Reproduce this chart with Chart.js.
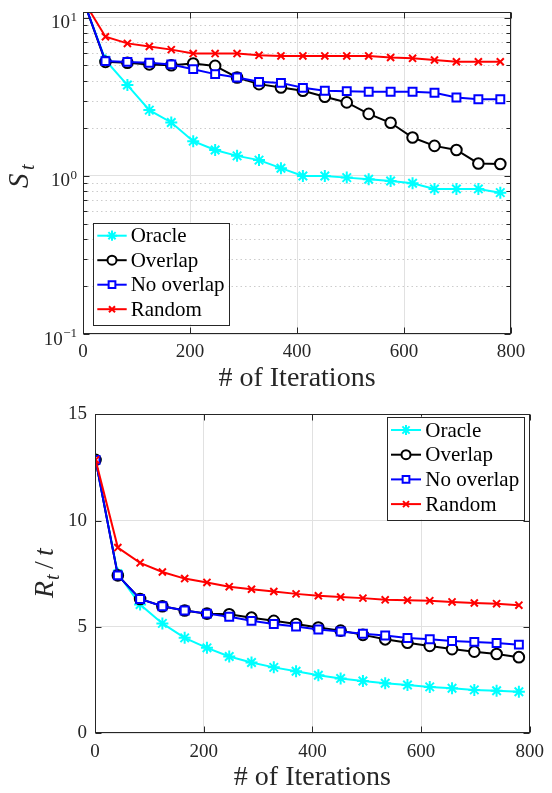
<!DOCTYPE html>
<html>
<head>
<meta charset="utf-8">
<script src="https://cdn.jsdelivr.net/npm/chart.js@4/dist/chart.umd.min.js"></script>
<style>
html,body{margin:0;padding:0;background:#fff;width:552px;height:793px;overflow:hidden}
.wrap{position:absolute;left:0;width:552px}
</style>
</head>
<body>
<div class="wrap" style="top:0;height:395px"><canvas id="c1"></canvas></div>
<div class="wrap" style="top:395px;height:398px"><canvas id="c2"></canvas></div>
<script>
// ---------------- data ----------------
const iterations = [1,42,83,124,165,206,247,288,329,370,411,452,493,534,575,616,657,698,739,780];
const seriesNames = ['Oracle','Overlap','No overlap','Random'];

// top panel: S_t (log scale)
const stOracle    = [12.86,5.40,3.76,2.61,2.18,1.66,1.46,1.34,1.26,1.12,1.00,1.00,0.976,0.953,0.93,0.90,0.828,0.828,0.828,0.784];
const stOverlap   = [12.86,5.27,5.20,5.08,5.02,5.15,4.97,4.20,3.81,3.63,3.46,3.17,2.92,2.47,2.17,1.75,1.55,1.46,1.20,1.19];
const stNoOverlap = [12.86,5.33,5.27,5.20,5.08,4.74,4.41,4.20,3.94,3.88,3.61,3.46,3.44,3.41,3.41,3.41,3.36,3.14,3.06,3.06];
const stRandom    = [12.86,7.60,6.90,6.60,6.30,5.95,5.95,5.95,5.80,5.75,5.75,5.75,5.75,5.75,5.62,5.55,5.42,5.28,5.28,5.28];

// bottom panel: R_t / t
const rOracle    = [12.86,7.50,6.05,5.16,4.48,4.01,3.60,3.32,3.09,2.91,2.72,2.57,2.45,2.34,2.26,2.17,2.11,2.03,1.99,1.94];
const rOverlap   = [12.86,7.42,6.31,5.97,5.77,5.62,5.59,5.43,5.28,5.13,4.97,4.82,4.62,4.41,4.25,4.10,3.95,3.83,3.72,3.57];
const rNoOverlap = [12.86,7.42,6.31,5.97,5.77,5.62,5.47,5.28,5.13,5.01,4.87,4.78,4.67,4.59,4.47,4.41,4.33,4.29,4.24,4.16];
const rRandom    = [12.86,8.73,8.01,7.58,7.27,7.09,6.89,6.77,6.66,6.55,6.46,6.40,6.35,6.27,6.25,6.23,6.17,6.12,6.09,6.02];

// ticks
const xTickValues   = [0,200,400,600,800];
const stTickValues  = [0.1,1,10];
const stTickBase    = ['10','10','10'];
const stTickExp     = ['\u22121','0','1'];
const stMinorTicks  = [0.2,0.3,0.4,0.5,0.6,0.7,0.8,0.9,2,3,4,5,6,7,8,9];
const rTickValues   = [0,5,10,15];

// ---------------- styles ----------------
const SERIF = '"Liberation Serif","Times New Roman",serif';
const seriesColors  = ['#00FFFF','#000000','#0000FF','#FF0000'];
const seriesMarkers = ['star','circle','rect','crossRot'];
const markerRadius  = [6,5.3,5.6,5];
const markerFill    = ['#00FFFF','#FFFFFF','#FFFFFF','#FF0000'];
const axisColor = '#262626';
const gridColor = '#e1e1e1';

function makeDatasets(vals){
  return seriesNames.map((name,i)=>({
    label:name,
    data: iterations.map((x,j)=>({x:x, y:vals[i][j]})),
    borderColor: seriesColors[i],
    backgroundColor: seriesColors[i],
    borderWidth: 2,
    tension: 0,
    fill: false,
    pointStyle: seriesMarkers[i],
    pointRadius: markerRadius[i],
    pointHoverRadius: markerRadius[i],
    pointBorderWidth: 2,
    pointBorderColor: seriesColors[i],
    pointBackgroundColor: markerFill[i],
    order: 4 - i
  }));
}

function drawMarker(ctx, style, x, y, r, color, fill){
  ctx.save();
  ctx.lineWidth = 2; ctx.strokeStyle = color; ctx.fillStyle = fill;
  if (Chart.helpers && Chart.helpers.drawPoint){
    Chart.helpers.drawPoint(ctx, {pointStyle:style, radius:r, rotation:0, borderWidth:2}, x, y);
  }
  ctx.restore();
}

const matlabPlugin = {
  id:'matlab',
  beforeDatasetsDraw(chart, args, o){
    const ctx = chart.ctx, a = chart.chartArea, ys = chart.scales.y;
    if (o.minor){
      ctx.save();
      ctx.strokeStyle = 'rgba(0,0,0,0.2)';
      ctx.lineWidth = 1;
      ctx.setLineDash([1.5,3]);
      o.minor.forEach(v=>{
        const p = Math.round(ys.getPixelForValue(v))+0.5;
        if (p < a.top || p > a.bottom) return;
        ctx.beginPath(); ctx.moveTo(a.left, p); ctx.lineTo(a.right, p); ctx.stroke();
      });
      ctx.restore();
    }
  },
  afterDatasetsDraw(chart, args, o){
    const ctx = chart.ctx, a = chart.chartArea, xs = chart.scales.x, ys = chart.scales.y;
    const L = Math.round(a.left)+0.5, R = Math.round(a.right)-0.5, T = Math.round(a.top)+0.5, B = Math.round(a.bottom)-0.5;
    ctx.save();
    ctx.strokeStyle = axisColor; ctx.lineWidth = 1;
    ctx.strokeRect(L, T, R-L, B-T);
    ctx.beginPath();
    xs.ticks.forEach(t=>{
      const p = Math.round(xs.getPixelForValue(t.value))+0.5;
      ctx.moveTo(p,B); ctx.lineTo(p,B-6);
      ctx.moveTo(p,T); ctx.lineTo(p,T+6);
    });
    ys.ticks.forEach(t=>{
      const p = Math.round(ys.getPixelForValue(t.value))+0.5;
      ctx.moveTo(L,p); ctx.lineTo(L+6,p);
      ctx.moveTo(R,p); ctx.lineTo(R-6,p);
    });
    if (o.minor){
      o.minor.forEach(v=>{
        const p = Math.round(ys.getPixelForValue(v))+0.5;
        ctx.moveTo(L,p); ctx.lineTo(L+4,p);
        ctx.moveTo(R,p); ctx.lineTo(R-4,p);
      });
    }
    ctx.stroke();
    ctx.restore();

    // log tick labels with superscript exponents
    if (o.logLabels){
      ctx.save();
      ctx.fillStyle = axisColor;
      ctx.textBaseline = 'alphabetic'; ctx.textAlign = 'left';
      o.logLabels.values.forEach((v,i)=>{
        const p = ys.getPixelForValue(v);
        const right = a.left - 6;
        ctx.font = '13px ' + SERIF;
        const ew = ctx.measureText(o.logLabels.exps[i]).width;
        ctx.font = '19px ' + SERIF;
        const bw = ctx.measureText(o.logLabels.bases[i]).width;
        ctx.fillText(o.logLabels.bases[i], right - ew - bw - 0.5, p + 10.5);
        ctx.font = '13px ' + SERIF;
        ctx.fillText(o.logLabels.exps[i], right - ew, p + 3);
      });
      ctx.restore();
    }

    // legend
    const lg = o.legend;
    if (lg){
      ctx.save();
      ctx.fillStyle = '#fff';
      ctx.fillRect(lg.x, lg.y, lg.w, lg.h);
      ctx.strokeStyle = axisColor; ctx.lineWidth = 1;
      ctx.strokeRect(Math.round(lg.x)+0.5, Math.round(lg.y)+0.5, Math.round(lg.w), Math.round(lg.h));
      chart.data.datasets.forEach((ds,i)=>{
        const cy = lg.y + lg.row0 + i*lg.rowH;
        ctx.strokeStyle = ds.borderColor; ctx.lineWidth = 2;
        ctx.beginPath(); ctx.moveTo(lg.x+lg.l0, cy); ctx.lineTo(lg.x+lg.l1, cy); ctx.stroke();
        drawMarker(ctx, ds.pointStyle, lg.x+lg.mx, cy, ds.pointRadius*0.85, ds.pointBorderColor, ds.pointBackgroundColor);
        ctx.fillStyle = '#000';
        ctx.font = '21px ' + SERIF;
        ctx.textBaseline = 'middle'; ctx.textAlign = 'left';
        ctx.fillText(ds.label, lg.x+lg.tx, cy+1);
      });
      ctx.restore();
    }
    // y title
    const yt = o.yTitle;
    if (yt){
      ctx.save();
      ctx.translate(yt.x, yt.y);
      ctx.rotate(-Math.PI/2);
      ctx.fillStyle = '#262626';
      ctx.textBaseline = 'alphabetic'; ctx.textAlign = 'left';
      yt.parts.forEach(p=>{ ctx.font = p.font; ctx.fillText(p.text, p.dx, p.dy); });
      ctx.restore();
    }
  }
};

function baseOptions(cfg){
  return {
    responsive:true, maintainAspectRatio:false, animation:false, devicePixelRatio:1,
    layout:{padding:cfg.padding},
    plugins:{legend:{display:false}, tooltip:{enabled:false}, matlab:cfg.matlab},
    scales:{
      x:{
        type:'linear', min:0, max:800,
        afterBuildTicks:s=>{ s.ticks = xTickValues.map(v=>({value:v})); },
        afterFit:s=>{ s.height = cfg.xHeight; },
        grid:{color:gridColor, lineWidth:1, drawTicks:false},
        border:{display:false},
        ticks:{font:{family:SERIF,size:19}, color:axisColor, padding:cfg.xPad, maxRotation:0, autoSkip:false},
        title:{display:true, text:'# of Iterations', font:{family:SERIF,size:28}, color:axisColor, padding:{top:0,bottom:cfg.titlePad}}
      },
      y: cfg.y
    }
  };
}

new Chart(document.getElementById('c1'), {
  type:'line',
  data:{datasets: makeDatasets([stOracle, stOverlap, stNoOverlap, stRandom])},
  options: baseOptions({
    padding:{left:0, top:12, right:41, bottom:0},
    xHeight:61, xPad:7, titlePad:0,
    matlab:{
      minor: stMinorTicks,
      logLabels:{values:stTickValues, bases:stTickBase, exps:stTickExp},
      legend:{x:92.7, y:222.7, w:135.6, h:101.6, row0:13, rowH:24.5, l0:4.6, l1:34, mx:19.3, tx:38},
      yTitle:{x:28, y:188, parts:[
        {text:'S', font:'italic 29px '+SERIF, dx:0, dy:0},
        {text:'t', font:'italic 20px '+SERIF, dx:18, dy:6}
      ]}
    },
    y:{
      type:'logarithmic', min:0.1, max:10.9,
      afterBuildTicks:s=>{ s.ticks = stTickValues.map(v=>({value:v, major:true})); },
      afterFit:s=>{ s.width = 83; },
      grid:{color:gridColor, lineWidth:1, drawTicks:false},
      border:{display:false},
      ticks:{display:false}
    }
  }),
  plugins:[matlabPlugin]
});

new Chart(document.getElementById('c2'), {
  type:'line',
  data:{datasets: makeDatasets([rOracle, rOverlap, rNoOverlap, rRandom])},
  options: baseOptions({
    padding:{left:0, top:12, right:19, bottom:0},
    xHeight:60, xPad:8, titlePad:-1,
    matlab:{
      legend:{x:387, y:21.7, w:137.3, h:102.6, row0:13.3, rowH:24.7, l0:4, l1:34, mx:19, tx:38.3},
      yTitle:{x:53, y:203, parts:[
        {text:'R', font:'italic 28px '+SERIF, dx:0, dy:0},
        {text:'t', font:'italic 20px '+SERIF, dx:18, dy:6},
        {text:'/', font:'28px '+SERIF, dx:29, dy:0},
        {text:'t', font:'italic 28px '+SERIF, dx:42, dy:0}
      ]}
    },
    y:{
      type:'linear', min:0, max:15,
      afterBuildTicks:s=>{ s.ticks = rTickValues.map(v=>({value:v})); },
      afterFit:s=>{ s.width = 95; },
      grid:{color:gridColor, lineWidth:1, drawTicks:false},
      border:{display:false},
      ticks:{font:{family:SERIF,size:19}, color:axisColor, padding:8, autoSkip:false}
    }
  }),
  plugins:[matlabPlugin]
});
</script>
</body>
</html>
